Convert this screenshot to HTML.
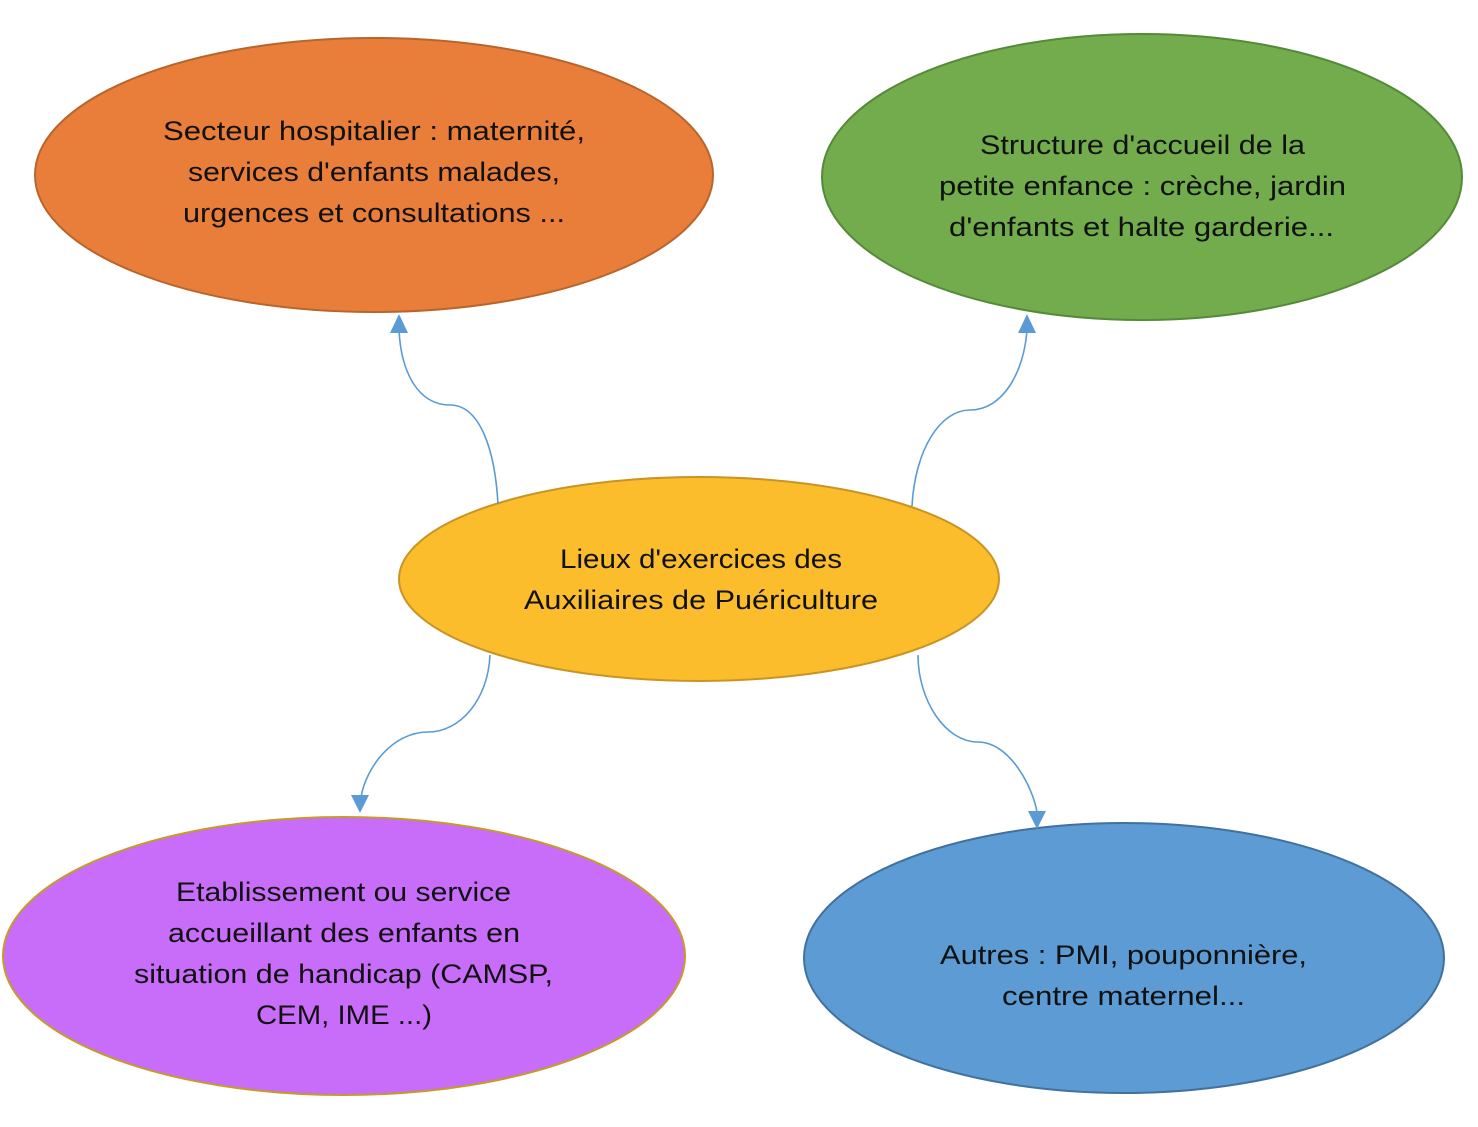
<!DOCTYPE html>
<html><head><meta charset="utf-8"><style>
html,body{margin:0;padding:0;background:#fff;}
svg{display:block;}
text{font-family:"Liberation Sans",sans-serif;font-size:27px;fill:#111;}
</style></head><body>
<svg width="1478" height="1127" viewBox="0 0 1478 1127">
<ellipse cx="374" cy="175" rx="339" ry="137" fill="#E97E3B" stroke="#B8652C" stroke-width="2"/>
<ellipse cx="1142" cy="177" rx="320" ry="143" fill="#72AC4D" stroke="#548A38" stroke-width="2"/>
<ellipse cx="699" cy="579" rx="300" ry="102" fill="#FBBD2C" stroke="#C99424" stroke-width="2"/>
<ellipse cx="344" cy="956" rx="341" ry="139" fill="#C86DFA" stroke="#C59A2A" stroke-width="2"/>
<ellipse cx="1124" cy="958" rx="320" ry="135" fill="#5C9BD4" stroke="#41719C" stroke-width="2"/>
<g fill="none" stroke="#5B9BD5" stroke-width="1.6">
<path d="M498,504 C495,450 480,405 450,405 C418,405 401,372 399,330"/>
<path d="M912,506 C915,450 940,410 970,410 C1003,410 1024,372 1027,330"/>
<path d="M490,655 C488,700 460,732 428,732 C392,732 366,768 361,797"/>
<path d="M918,655 C918,700 945,742 978,742 C1010,742 1033,788 1037,812"/>
</g>
<g fill="#5B9BD5">
<polygon points="399,314 390,333 408,333"/>
<polygon points="1027,314 1018,333 1036,333"/>
<polygon points="360,813 351,795 369,795"/>
<polygon points="1037,829 1028,811 1046,811"/>
</g>
<g lengthAdjust="spacingAndGlyphs">
<text x="163" y="140" textLength="422" lengthAdjust="spacingAndGlyphs">Secteur hospitalier : maternité,</text>
<text x="188" y="181" textLength="372" lengthAdjust="spacingAndGlyphs">services d'enfants malades,</text>
<text x="183" y="222" textLength="382" lengthAdjust="spacingAndGlyphs">urgences et consultations ...</text>
<text x="980" y="154" textLength="325" lengthAdjust="spacingAndGlyphs">Structure d'accueil de la</text>
<text x="939" y="195" textLength="407" lengthAdjust="spacingAndGlyphs">petite enfance : crèche, jardin</text>
<text x="949" y="236" textLength="385" lengthAdjust="spacingAndGlyphs">d'enfants et halte garderie...</text>
<text x="560" y="568" textLength="282" lengthAdjust="spacingAndGlyphs">Lieux d'exercices des</text>
<text x="524" y="609" textLength="354" lengthAdjust="spacingAndGlyphs">Auxiliaires de Puériculture</text>
<text x="176" y="901" textLength="335" lengthAdjust="spacingAndGlyphs">Etablissement ou service</text>
<text x="168" y="942" textLength="352" lengthAdjust="spacingAndGlyphs">accueillant des enfants en</text>
<text x="134" y="983" textLength="419" lengthAdjust="spacingAndGlyphs">situation de handicap (CAMSP,</text>
<text x="256" y="1024" textLength="176" lengthAdjust="spacingAndGlyphs">CEM, IME ...)</text>
<text x="940" y="964" textLength="367" lengthAdjust="spacingAndGlyphs">Autres : PMI, pouponnière,</text>
<text x="1002" y="1005" textLength="243" lengthAdjust="spacingAndGlyphs">centre maternel...</text>
</g>
</svg>
</body></html>
